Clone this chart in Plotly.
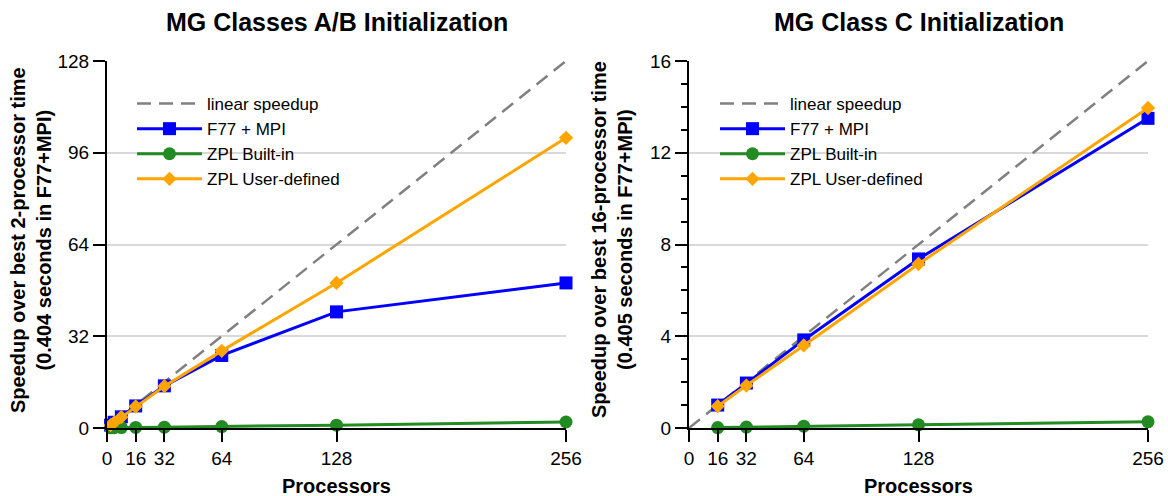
import plotly.graph_objects as go

# Left panel: MG Classes A/B
ab_linear_x = [0, 256]
ab_linear_y = [0, 128]
ab_f77_x = [2, 4, 8, 16, 32, 64, 128, 256]
ab_f77_y = [1.0, 2.0, 3.9, 7.7, 14.7, 25.3, 40.5, 50.6]
ab_builtin_x = [2, 4, 8, 16, 32, 64, 128, 256]
ab_builtin_y = [0.05, 0.1, 0.15, 0.2, 0.3, 0.5, 1.0, 2.1]
ab_user_x = [2, 4, 8, 16, 32, 64, 128, 256]
ab_user_y = [1.0, 1.9, 3.8, 7.5, 14.6, 26.9, 50.6, 101.2]

# Right panel: MG Class C
c_linear_x = [0, 256]
c_linear_y = [0, 16]
c_f77_x = [16, 32, 64, 128, 256]
c_f77_y = [1.0, 1.96, 3.84, 7.37, 13.5]
c_builtin_x = [16, 32, 64, 128, 256]
c_builtin_y = [0.02, 0.04, 0.08, 0.14, 0.27]
c_user_x = [16, 32, 64, 128, 256]
c_user_y = [0.95, 1.85, 3.6, 7.15, 13.95]

x_ticks = [0, 16, 32, 64, 128, 256]

GRAY = "#808080"
BLUE = "#0000ff"
GREEN = "#228b22"
ORANGE = "#ffa500"
FONT = "Liberation Sans, Arial, sans-serif"

fig = go.Figure()

def add_panel(xa, ya, legend, lin, f77, bi, us):
    fig.add_trace(go.Scatter(x=lin[0], y=lin[1], mode="lines", name="linear speedup",
                             line=dict(color=GRAY, width=2.5, dash="14px,8px"),
                             xaxis=xa, yaxis=ya, legend=legend, cliponaxis=False))
    fig.add_trace(go.Scatter(x=f77[0], y=f77[1], mode="lines+markers", name="F77 + MPI",
                             line=dict(color=BLUE, width=3),
                             marker=dict(symbol="square", size=13, color=BLUE),
                             xaxis=xa, yaxis=ya, legend=legend, cliponaxis=False))
    fig.add_trace(go.Scatter(x=bi[0], y=bi[1], mode="lines+markers", name="ZPL Built-in",
                             line=dict(color=GREEN, width=3),
                             marker=dict(symbol="circle", size=13, color=GREEN),
                             xaxis=xa, yaxis=ya, legend=legend, cliponaxis=False))
    fig.add_trace(go.Scatter(x=us[0], y=us[1], mode="lines+markers", name="ZPL User-defined",
                             line=dict(color=ORANGE, width=3),
                             marker=dict(symbol="diamond", size=11, color=ORANGE),
                             xaxis=xa, yaxis=ya, legend=legend, cliponaxis=False))

add_panel("x", "y", "legend", (ab_linear_x, ab_linear_y), (ab_f77_x, ab_f77_y),
          (ab_builtin_x, ab_builtin_y), (ab_user_x, ab_user_y))
add_panel("x2", "y2", "legend2", (c_linear_x, c_linear_y), (c_f77_x, c_f77_y),
          (c_builtin_x, c_builtin_y), (c_user_x, c_user_y))

L, R, T, B = 107, 20, 61, 68
W, H = 1168, 496
plot_w = W - L - R
plot_h = H - T - B
d1 = [0, (566 - L) / plot_w]
d2 = [(689 - L) / plot_w, 1]

def px_x(p):
    return (p - L) / plot_w

def px_y(p):
    return (H - B - p) / plot_h

xaxis_common = dict(range=[0, 256], tickmode="array", tickvals=x_ticks, ticks="outside", ticklen=12,
                    tickwidth=2, tickcolor="black", showline=True, linecolor="black",
                    linewidth=2, showgrid=False, zeroline=False, automargin=False,
                    tickfont=dict(size=19, color="black", family=FONT))
yaxis_common = dict(ticks="outside", ticklen=12, tickwidth=2, tickcolor="black",
                    showline=True, linecolor="black", linewidth=2, automargin=False,
                    showgrid=True, gridcolor="#d9d9d9", gridwidth=1.5, zeroline=False,
                    tickfont=dict(size=19, color="black", family=FONT))

title_font = dict(size=25, color="black", family=FONT)
axis_title_font = dict(size=20, color="black", family=FONT)
legend_font = dict(size=17, color="black", family=FONT)

fig.update_layout(
    width=W, height=H,
    margin=dict(l=L, r=R, t=T, b=B),
    paper_bgcolor="white", plot_bgcolor="white",
    font=dict(family=FONT, color="black"),
    xaxis=dict(domain=d1, anchor="y", **xaxis_common),
    xaxis2=dict(domain=d2, anchor="y2", **xaxis_common),
    yaxis=dict(domain=[0, 1], anchor="x", range=[0, 128], tick0=0, dtick=32,
               **yaxis_common),
    yaxis2=dict(domain=[0, 1], anchor="x2", range=[0, 16], tick0=0, dtick=4,
                minor=dict(tick0=0, dtick=1, ticks="outside", ticklen=6, tickwidth=2,
                           tickcolor="black", showgrid=False),
                **yaxis_common),
    legend=dict(x=px_x(132), y=px_y(86), xanchor="left", yanchor="top", bgcolor="rgba(0,0,0,0)",
                font=legend_font, tracegroupgap=0, itemwidth=65),
    legend2=dict(x=px_x(715), y=px_y(86), xanchor="left", yanchor="top", bgcolor="rgba(0,0,0,0)",
                 font=legend_font, tracegroupgap=0, itemwidth=65),
    showlegend=True,
    annotations=[
        dict(text="<b>MG Classes A/B Initialization</b>", x=(d1[0] + d1[1]) / 2, y=px_y(22),
             xref="paper", yref="paper", xanchor="center", yanchor="middle", showarrow=False,
             font=title_font),
        dict(text="<b>MG Class C Initialization</b>", x=(d2[0] + d2[1]) / 2, y=px_y(22),
             xref="paper", yref="paper", xanchor="center", yanchor="middle", showarrow=False,
             font=title_font),
        dict(text="<b>Processors</b>", x=(d1[0] + d1[1]) / 2, y=px_y(486),
             xref="paper", yref="paper", xanchor="center", yanchor="middle", showarrow=False,
             font=axis_title_font),
        dict(text="<b>Processors</b>", x=(d2[0] + d2[1]) / 2, y=px_y(486),
             xref="paper", yref="paper", xanchor="center", yanchor="middle", showarrow=False,
             font=axis_title_font),
        dict(text="<b>Speedup over best 2-processor time<br>(0.404 seconds in F77+MPI)</b>",
             x=px_x(31), y=px_y(240), textangle=-90,
             xref="paper", yref="paper", xanchor="center", yanchor="middle", showarrow=False,
             font=axis_title_font),
        dict(text="<b>Speedup over best 16-processor time<br>(0.405 seconds in F77+MPI)</b>",
             x=px_x(612), y=px_y(240), textangle=-90,
             xref="paper", yref="paper", xanchor="center", yanchor="middle", showarrow=False,
             font=axis_title_font),
    ],
)

fig.write_html("out.html", config={"displayModeBar": False},
               post_script="document.body.style.margin='0px';document.body.style.overflow='hidden';")
